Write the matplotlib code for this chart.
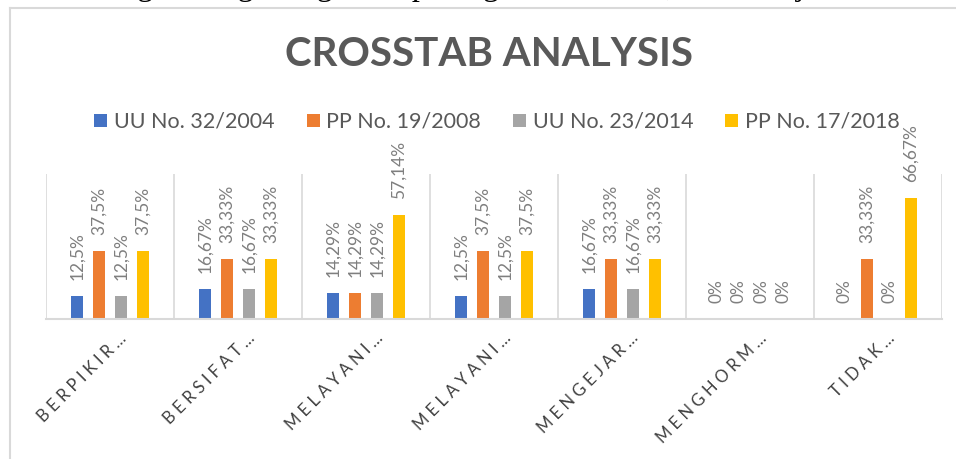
import numpy as np
import matplotlib.pyplot as plt
from matplotlib.lines import Line2D
from matplotlib.transforms import ScaledTranslation

categories = ['BERPIKIR…', 'BERSIFAT…', 'MELAYANI…', 'MELAYANI…',
              'MENGEJAR…', 'MENGHORM…', 'TIDAK…']
series = ['UU No. 32/2004', 'PP No. 19/2008', 'UU No. 23/2014', 'PP No. 17/2018']
uu_2004 = [12.5, 16.67, 14.29, 12.5, 16.67, 0, 0]
pp_2008 = [37.5, 33.33, 14.29, 37.5, 33.33, 0, 33.33]
uu_2014 = [12.5, 16.67, 14.29, 12.5, 16.67, 0, 0]
pp_2018 = [37.5, 33.33, 57.14, 37.5, 33.33, 0, 66.67]
colors = ['#4472C4', '#ED7D31', '#A5A5A5', '#FFC000']

plt.rcParams['font.family'] = ['Lato', 'DejaVu Sans']

fig = plt.figure(figsize=(9.56, 4.59), dpi=100)
ax = fig.add_axes([46/956, 1-319/459, 896/956, 145/459])

x = np.arange(len(categories))
step = 0.172
width = 0.094
for i, (vals, name, c) in enumerate(zip([uu_2004, pp_2008, uu_2014, pp_2018], series, colors)):
    pos = x + (i - 1.5) * step
    ax.bar(pos, vals, width, color=c, label=name)
    for p, v in zip(pos, vals):
        txt = ('%.2f' % v).rstrip('0').rstrip('.').replace('.', ',') + '%'
        ax.annotate(txt, (p, v), xytext=(0, 11.5), textcoords='offset points',
                    rotation=90, ha='center', va='bottom', fontsize=12.5, color='#7f7f7f')

ax.set_xlim(-0.5, len(categories) - 0.5)
ax.set_ylim(0, 80)
for b in np.arange(-0.5, len(categories), 1.0):
    ax.axvline(b, color='#d9d9d9', lw=1.2, zorder=0)
for s in ['top', 'right', 'left']:
    ax.spines[s].set_visible(False)
ax.spines['bottom'].set_color('#d9d9d9')
ax.spines['bottom'].set_linewidth(1.5)
ax.set_yticks([])
ax.set_xticks(x)
ax.set_xticklabels([' '.join(c[:-1]) + ' …' for c in categories],
                   rotation=45, ha='right', va='center', rotation_mode='anchor',
                   fontsize=12, color='#404040')
ax.tick_params(axis='x', length=0, pad=12)
for lbl in ax.get_xticklabels():
    lbl.set_transform(lbl.get_transform() + ScaledTranslation(0.14, 0, fig.dpi_scale_trans))

fig.text(0.511, 1 - 55/459, 'CROSSTAB ANALYSIS', ha='center', va='center',
         fontsize=29, fontweight='bold', color='#595959')
fig.legend(loc='center', bbox_to_anchor=(497/956, 1 - 122/459), ncol=4, frameon=False,
           fontsize=15.5, handlelength=0.6, handleheight=0.6, handletextpad=0.3,
           columnspacing=1.5, labelcolor='#595959')

fig.add_artist(Line2D([10/956, 10/956], [0, 1 - 8/459], color='#d9d9d9', lw=1.5))
fig.add_artist(Line2D([10/956, 1], [1 - 8/459, 1 - 8/459], color='#d9d9d9', lw=1.5))
fig.text(-0.012, 1 + 5/459, '2018 masing masing mengalami peningkatan dari 33,33% menjadi sebesar 66,67%',
         ha='left', va='baseline', fontsize=23, family='Liberation Serif', color='black')

fig.savefig('out.png', dpi=100)
